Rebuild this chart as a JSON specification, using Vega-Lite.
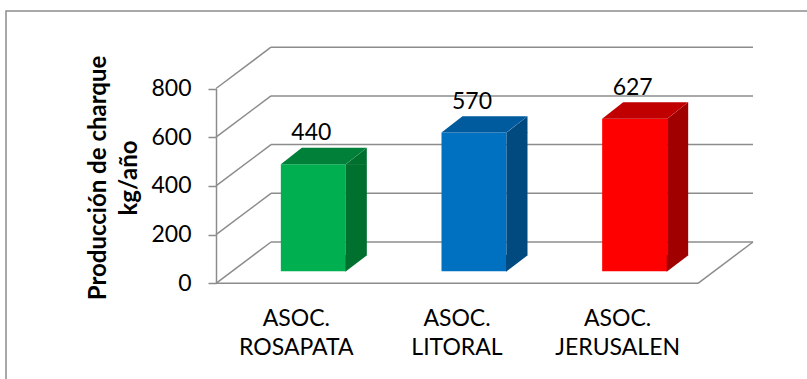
{
  "$schema": "https://vega.github.io/schema/vega-lite/v6.json",
  "width": 801,
  "height": 368,
  "autosize": {"type": "none"},
  "padding": {"left": 6, "top": 11, "right": 0, "bottom": 0},
  "background": "white",
  "config": {"view": {"stroke": null}, "font": "Lato", "axisY": {"grid": false}, "axisX": {"grid": false}},
  "layer": [
    {
      "layer": [
        {
          "data": {"values": [{"frame": 1}]},
          "mark": {"type": "rect", "fill": null, "stroke": "#8C8C8C", "strokeWidth": 1.5},
          "encoding": {
            "x": {"value": 0}, "x2": {"value": 840},
            "y": {"value": 0}, "y2": {"value": 420}
          }
        },
        {
          "data": {"values": [{"v": 0}, {"v": 200}, {"v": 400}, {"v": 600}, {"v": 800}]},
          "mark": {"type": "rule", "color": "#8C8C8C", "strokeWidth": 1.5, "xOffset": 55, "x2Offset": 55, "yOffset": -41.3, "y2Offset": -41.3},
          "encoding": {
            "x": {"datum": 0, "type": "quantitative", "scale": {"domain": [0, 1], "range": [210, 692]}, "axis": null},
            "x2": {"datum": 1},
            "y": {"field": "v", "type": "quantitative", "scale": {"domain": [0, 800], "range": [272.3, 77.5]}},
            "y2": {"field": "v"}
          }
        },
        {
          "data": {"values": [{"v": 0}, {"v": 200}, {"v": 400}, {"v": 600}, {"v": 800}]},
          "mark": {"type": "rule", "color": "#8C8C8C", "strokeWidth": 1.5, "x2Offset": 55, "y2Offset": -41.3},
          "encoding": {
            "x": {"datum": 0, "type": "quantitative", "scale": {"domain": [0, 1], "range": [210, 692]}, "axis": null},
            "x2": {"datum": 0},
            "y": {"field": "v", "type": "quantitative", "scale": {"domain": [0, 800], "range": [272.3, 77.5]}},
            "y2": {"field": "v"}
          }
        },
        {
          "data": {"values": [{"v": 0}]},
          "mark": {"type": "rule", "color": "#8C8C8C", "strokeWidth": 1.5},
          "encoding": {
            "x": {"datum": 0, "type": "quantitative", "scale": {"domain": [0, 1], "range": [210, 692]}, "axis": null},
            "x2": {"datum": 1},
            "y": {"field": "v", "type": "quantitative", "scale": {"domain": [0, 800], "range": [272.3, 77.5]}},
            "y2": {"field": "v"}
          }
        },
        {
          "data": {"values": [{"v": 0}]},
          "mark": {"type": "rule", "color": "#8C8C8C", "strokeWidth": 1.5, "x2Offset": 55, "y2Offset": -41.3},
          "encoding": {
            "x": {"datum": 1, "type": "quantitative", "scale": {"domain": [0, 1], "range": [210, 692]}, "axis": null},
            "x2": {"datum": 1},
            "y": {"field": "v", "type": "quantitative", "scale": {"domain": [0, 800], "range": [272.3, 77.5]}},
            "y2": {"field": "v"}
          }
        }
      ]
    },
    {
      "data": {"values": [
        {"cat": "ASOC. ROSAPATA", "value": 440},
        {"cat": "ASOC. LITORAL", "value": 570},
        {"cat": "ASOC. JERUSALEN", "value": 627}
      ]},
      "layer": [
        {
          "mark": {"type": "bar", "xOffset": 17, "yOffset": -12, "y2Offset": -12},
          "encoding": {
            "x": {"field": "cat", "type": "nominal", "sort": null,
              "scale": {"type": "band", "range": [210, 692], "paddingInner": 0.5954, "paddingOuter": 0.2977}},
            "y": {"field": "value", "type": "quantitative",
              "scale": {"domain": [0, 800], "range": [272.3, 77.5]}},
            "color": {"field": "cat", "type": "nominal", "sort": null,
              "scale": {"domain": ["ASOC. ROSAPATA", "ASOC. LITORAL", "ASOC. JERUSALEN"], "range": ["#00B050", "#0070C0", "#FF0000"]},
              "legend": null}
          }
        },
        {
          "mark": {"type": "bar", "width": 21, "xOffset": 60, "yOffset": -12, "y2Offset": -28.3},
          "encoding": {
            "x": {"field": "cat", "type": "nominal", "sort": null},
            "y": {"field": "value", "type": "quantitative"},
            "y2": {"datum": 0},
            "color": {"field": "cat", "type": "nominal", "sort": null,
              "scale": {"domain": ["ASOC. ROSAPATA", "ASOC. LITORAL", "ASOC. JERUSALEN"], "range": ["#00702F", "#004A80", "#A00000"]},
              "legend": null}
          }
        },
        {
          "mark": {"type": "point", "filled": true, "opacity": 1, "size": 4, "xOffset": 17, "yOffset": -12,
            "shape": "M32,0.5L32,-16.3L54,-16.3Z"},
          "encoding": {
            "x": {"field": "cat", "type": "nominal", "sort": null},
            "y": {"datum": 0, "type": "quantitative"},
            "color": {"field": "cat", "type": "nominal", "sort": null,
              "scale": {"domain": ["ASOC. ROSAPATA", "ASOC. LITORAL", "ASOC. JERUSALEN"], "range": ["#00702F", "#004A80", "#A00000"]},
              "legend": null}
          }
        },
        {
          "mark": {"type": "point", "filled": true, "opacity": 1, "size": 4, "xOffset": 17, "yOffset": -12,
            "shape": "M32,0.5L53.5,-16.3L53.5,0.5Z"},
          "encoding": {
            "x": {"field": "cat", "type": "nominal", "sort": null},
            "y": {"field": "value", "type": "quantitative"},
            "color": {"field": "cat", "type": "nominal", "sort": null,
              "scale": {"domain": ["ASOC. ROSAPATA", "ASOC. LITORAL", "ASOC. JERUSALEN"], "range": ["#00702F", "#004A80", "#A00000"]},
              "legend": null}
          }
        },
        {
          "mark": {"type": "point", "filled": true, "opacity": 1, "size": 4, "xOffset": 17, "yOffset": -12,
            "shape": "M-32.5,0L32.5,0L53.5,-16.3L-11.5,-16.3Z"},
          "encoding": {
            "x": {"field": "cat", "type": "nominal", "sort": null},
            "y": {"field": "value", "type": "quantitative"},
            "color": {"field": "cat", "type": "nominal", "sort": null,
              "scale": {"domain": ["ASOC. ROSAPATA", "ASOC. LITORAL", "ASOC. JERUSALEN"], "range": ["#008038", "#005A9E", "#C00000"]},
              "legend": null}
          }
        },
        {
          "mark": {"type": "text", "xOffset": 15, "yOffset": -36, "baseline": "alphabetic", "align": "center", "font": "Lato", "fontSize": 23, "color": "black"},
          "encoding": {
            "x": {"field": "cat", "type": "nominal", "sort": null,
              "axis": {"orient": "bottom", "offset": -95.7, "domain": false, "ticks": false, "grid": false,
                "labelExpr": "split(datum.label, ' ')", "labelFont": "Lato", "labelFontSize": 23, "labelColor": "black",
                "labelPadding": 24, "labelLineHeight": 29, "labelBaseline": "top", "labelAlign": "center", "labelAngle": 0, "title": null}},
            "y": {"field": "value", "type": "quantitative",
              "axis": {"orient": "left", "values": [0, 200, 400, 600, 800], "offset": -210, "grid": false,
                "domainColor": "#8C8C8C", "domainWidth": 1.5, "tickColor": "#8C8C8C", "tickWidth": 1.5, "tickSize": 8,
                "labelFont": "Lato", "labelFontSize": 23, "labelColor": "black", "labelPadding": 17,
                "title": ["Producción de charque", "kg/año"], "titleFont": "Lato", "titleFontSize": 24, "titleFontWeight": "bold",
                "titleColor": "black", "titleX": -118, "titleY": 166.5, "titleAngle": -90, "titleAlign": "center",
                "titleBaseline": "middle", "titleLineHeight": 31}},
            "text": {"field": "value", "type": "quantitative"}
          }
        }
      ],
      "resolve": {"scale": {"color": "independent"}}
    }
  ],
  "resolve": {"scale": {"x": "independent"}}
}
